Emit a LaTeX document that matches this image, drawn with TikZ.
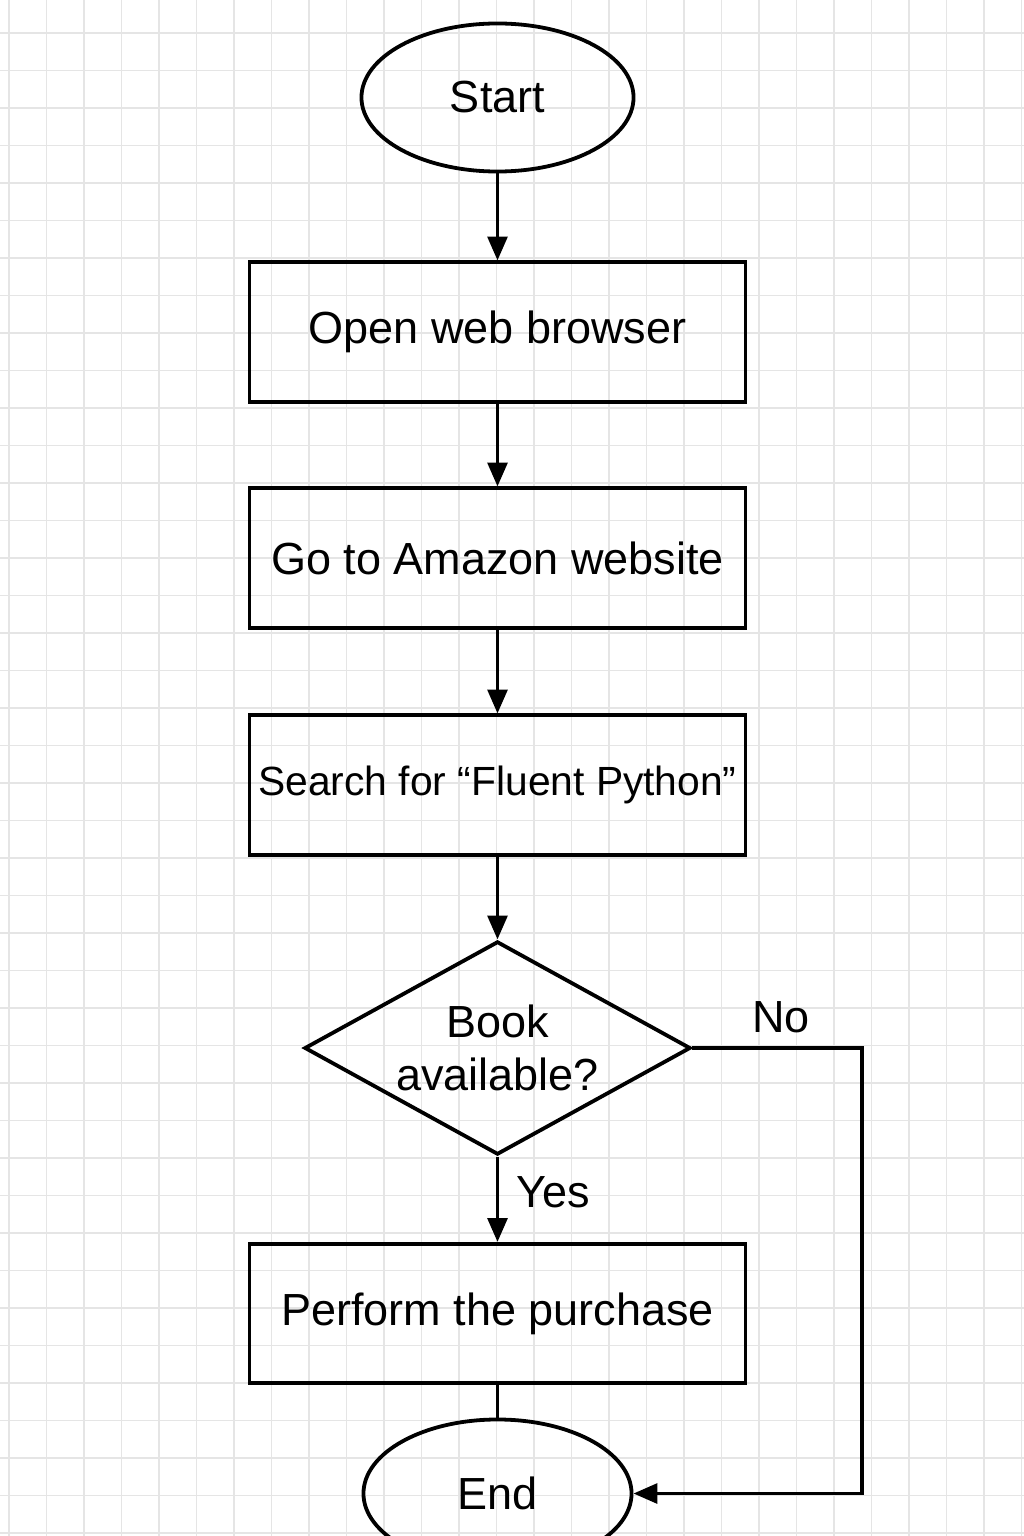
\documentclass[tikz,border=0pt]{standalone}
\usepackage{fontspec}
\setmainfont{Liberation Sans}
\usetikzlibrary{shapes.geometric,arrows.meta}
\begin{document}
\begin{tikzpicture}[x=0.025cm,y=-0.025cm,
  every node/.style={font=\fontsize{32}{38}\selectfont},
  flow/.style={line width=2.7pt},
  arr/.style={flow,-{Triangle[length=17pt,width=14pt]}},
  proc/.style={draw,flow,minimum width=12.4cm,minimum height=3.48cm},
  term/.style={draw,flow,ellipse,minimum height=3.7cm}]
  \useasboundingbox (0,0) rectangle (1024,1536);
  \clip (0,0) rectangle (1024,1536);
  \fill[white] (0,0) rectangle (1024,1536);
  % grid
  \foreach \gx in {0,...,27} {
    \draw[black!10,line width=0.8pt] (9+37.5*\gx,0) -- (9+37.5*\gx,1536);
  }
  \foreach \gy in {0,...,40} {
    \draw[black!10,line width=0.8pt] (0,33+37.5*\gy) -- (1024,33+37.5*\gy);
  }
  % shapes
  \node[term,minimum width=6.8cm] (start) at (497.5,97.5) {Start};
  \node[proc] (browser) at (497.5,332) {Open web browser};
  \node[proc] (amazon) at (497.5,558) {Go to Amazon website};
  \node[proc,font=\fontsize{29}{35}\selectfont] (search) at (497.5,785) {Search for “Fluent Python”};
  \node[draw,flow,diamond,aspect=1.81,minimum width=9.65cm,minimum height=5.33cm,inner sep=0pt,
        align=center,font=\fontsize{32}{38}\selectfont] (avail) at (497.5,1048) {Book\\available?};
  \node[proc] (buy) at (497.5,1313.5) {Perform the purchase};
  \node[term,minimum width=6.7cm] (finish) at (497.5,1493.5) {End};
  \coordinate (nocorner) at (862,1048);
  % labels
  \node (nolbl) at (781,1017) {No};
  \node (yeslbl) at (553,1192) {Yes};
  % connectors
  \draw[arr] (start) -- (browser);
  \draw[arr] (browser) -- (amazon);
  \draw[arr] (amazon) -- (search);
  \draw[arr] (search) -- (avail);
  \draw[arr] (avail) -- (buy);
  \draw[flow] (buy) -- (finish);
  \draw[arr] (avail.east) -- (nocorner) |- (finish.east);
\end{tikzpicture}
\end{document}
